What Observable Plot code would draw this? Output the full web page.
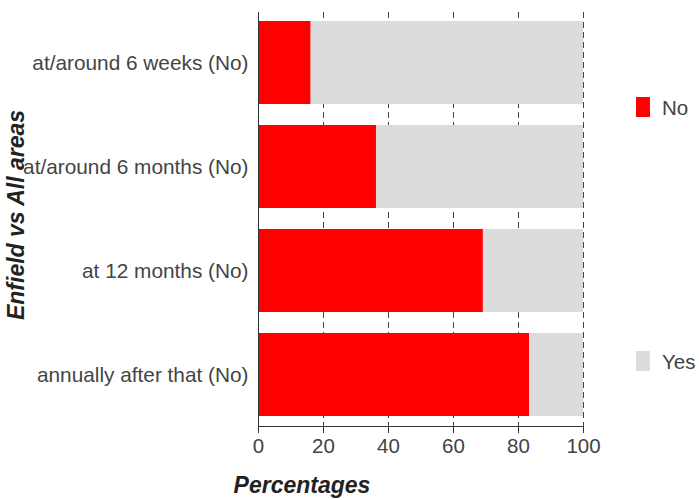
<!DOCTYPE html>
<html><head><meta charset="utf-8">
<script src="https://cdn.jsdelivr.net/npm/d3@7"></script>
<script src="https://cdn.jsdelivr.net/npm/@observablehq/plot@0.6"></script>
<style>body{margin:0;background:#fff} #chart{width:699px;height:500px}</style>
</head><body><div id="chart"></div>
<script>
const categories = ["at/around 6 weeks (No)", "at/around 6 months (No)", "at 12 months (No)", "annually after that (No)"];
const answers = ["No", "Yes"];
const noValues = [16.2, 36.3, 69.2, 83.4];
const yesValues = [83.8, 63.7, 30.8, 16.6];
const xTicks = [0, 20, 40, 60, 80, 100];
const colors = ["#ff0000", "#dcdcdc"];

const data = [];
categories.forEach((c, i) => {
  data.push({category: c, answer: "No", value: noValues[i]});
  data.push({category: c, answer: "Yes", value: yesValues[i]});
});

const W = 699, H = 500, mL = 258, mR = 116, mT = 12, mB = 74;
const plot = Plot.plot({
  width: W, height: H,
  marginLeft: mL, marginRight: mR, marginTop: mT, marginBottom: mB,
  style: {fontFamily: "'Liberation Sans', Arial, sans-serif", fontSize: "20px", color: "#444", background: "#fff"},
  x: {domain: [0, 100], ticks: xTicks},
  y: {domain: categories, paddingInner: 0.2, paddingOuter: 0.09},
  color: {domain: answers, range: colors},
  marks: [
    Plot.ruleX(xTicks.slice(1), {stroke: "#444", strokeWidth: 1, strokeDasharray: "6,4"}),
    Plot.barX(data, Plot.stackX({x: "value", y: "category", fill: "answer"})),
    Plot.ruleX([0], {stroke: "#333", strokeWidth: 1}),
    Plot.axisX({ticks: xTicks, tickSize: 7, tickPadding: 5, label: null, fontSize: 20.5, stroke: "#333"}),
    Plot.axisY({tickSize: 0, tickPadding: 10, label: null, fontSize: 20.8})
  ]
});

const svg = d3.select(plot);
const x = plot.scale("x");
// bottom axis line
svg.append("line")
  .attr("x1", x.apply(0)).attr("x2", x.apply(100))
  .attr("y1", H - mB + 0.5).attr("y2", H - mB + 0.5)
  .attr("stroke", "#333");
// axis titles
svg.append("text")
  .attr("x", 302).attr("y", 493)
  .attr("text-anchor", "middle")
  .attr("font-weight", "bold").attr("font-style", "italic")
  .attr("font-size", 23).attr("fill", "#222")
  .text("Percentages");
svg.append("text")
  .attr("transform", "translate(24,215) rotate(-90)")
  .attr("text-anchor", "middle")
  .attr("font-weight", "bold").attr("font-style", "italic")
  .attr("font-size", 23).attr("fill", "#222")
  .text("Enfield vs All areas");
// legend
const legendY = [97, 351];
answers.forEach((a, i) => {
  svg.append("rect").attr("x", 636).attr("y", legendY[i]).attr("width", 14).attr("height", 20)
    .attr("fill", plot.scale("color").apply(a));
  svg.append("text").attr("x", 662).attr("y", legendY[i] + 18)
    .attr("text-anchor", "start")
    .attr("font-size", 20.5).attr("fill", "#444").text(a);
});

document.getElementById("chart").appendChild(plot);
</script>
</body></html>
